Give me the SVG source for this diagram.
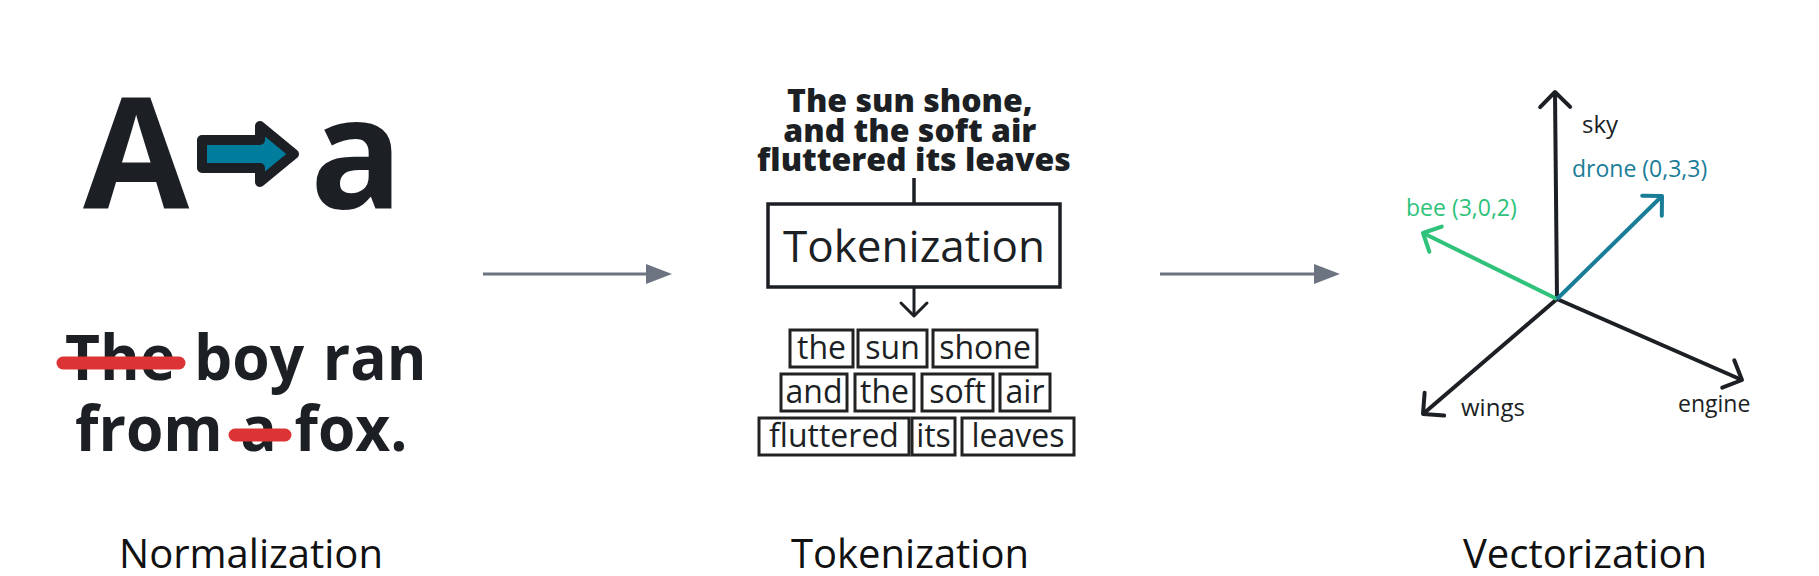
<svg xmlns="http://www.w3.org/2000/svg" width="1819" height="576" viewBox="0 0 1819 576">
<defs>
<style>
.f{font-family:"Open Sans","Noto Sans","Liberation Sans",sans-serif;}
.ink{fill:#1c1f24;}
.bold{font-weight:700;}
.label{font-size:40px;fill:#111;text-anchor:middle;}
.tok{fill:none;stroke:#222;stroke-width:3;}
.toktxt{font-size:32px;fill:#1c1f24;text-anchor:middle;}
.axis{stroke:#1c1f24;stroke-width:4;fill:none;}
.conn{stroke:#6b7480;stroke-width:3;fill:none;}
.strike{stroke:#dc3434;stroke-width:13;stroke-linecap:round;}
</style>
<marker id="tri" markerUnits="userSpaceOnUse" viewBox="0 -10 26 20" markerWidth="26" markerHeight="20" refX="2" refY="0" orient="auto">
<path d="M0,-10 L26,0 L0,10 Z" fill="#6b7480"/>
</marker>
<marker id="chevK" markerUnits="userSpaceOnUse" viewBox="-20 -20 24 40" markerWidth="24" markerHeight="40" refX="0" refY="0" orient="auto">
<path d="M-15,-15 L0,0 L-15,15" fill="none" stroke="#1c1f24" stroke-width="4" stroke-linecap="round" stroke-linejoin="round"/>
</marker>
<marker id="chevG" markerUnits="userSpaceOnUse" viewBox="-20 -20 24 40" markerWidth="24" markerHeight="40" refX="0" refY="0" orient="auto">
<path d="M-14,-14 L0,0 L-14,14" fill="none" stroke="#2ec27a" stroke-width="4" stroke-linecap="round" stroke-linejoin="round"/>
</marker>
<marker id="chevT" markerUnits="userSpaceOnUse" viewBox="-20 -20 24 40" markerWidth="24" markerHeight="40" refX="0" refY="0" orient="auto">
<path d="M-14,-14 L0,0 L-14,14" fill="none" stroke="#1a7d98" stroke-width="4" stroke-linecap="round" stroke-linejoin="round"/>
</marker>
<marker id="chevS" markerUnits="userSpaceOnUse" viewBox="-20 -20 24 40" markerWidth="24" markerHeight="40" refX="0" refY="0" orient="auto">
<path d="M-13,-13 L0,0 L-13,13" fill="none" stroke="#1c1f24" stroke-width="3" stroke-linecap="round" stroke-linejoin="round"/>
</marker>
</defs>
<rect width="1819" height="576" fill="#ffffff"/>

<g id="normalization">
<text class="f ink bold" x="83" y="208" font-size="154">A</text>
<path d="M202,140 L260,140 L260,126 L294,154 L260,182 L260,168 L202,168 Z" fill="#007c9c" stroke="#1c1f24" stroke-width="10" stroke-linejoin="round"/>
<text class="f ink bold" x="310" y="208" font-size="154">a</text>
<text class="f ink bold" font-size="63" word-spacing="3" transform="translate(65,380) scale(0.96,1)">The boy ran</text>
<text class="f ink bold" font-size="63" word-spacing="2" transform="translate(75,451) scale(0.96,1)">from a fox.</text>
<line class="strike" x1="63" y1="363" x2="179" y2="363"/>
<line class="strike" x1="235" y1="435" x2="285" y2="435"/>
<text class="f label" x="251" y="568">Normalization</text>
</g>

<g id="tokenization">
<text class="f ink" font-size="32" font-weight="800" text-anchor="middle">
<tspan x="914" y="112">The sun shone,</tspan>
<tspan x="914" y="142">and the soft air</tspan>
<tspan x="914" y="171">fluttered its leaves</tspan>
</text>
<rect x="768" y="204" width="292" height="83" fill="none" stroke="#1c1f24" stroke-width="3.5"/>
<text class="f ink" x="914" y="262" font-size="44" text-anchor="middle">Tokenization</text>
<g id="tokens">
<rect class="tok" x="790" y="330" width="63" height="37"/><text class="f toktxt" x="821.5" y="359">the</text>
<rect class="tok" x="858" y="330" width="69" height="37"/><text class="f toktxt" x="892.5" y="359">sun</text>
<rect class="tok" x="933" y="330" width="104" height="37"/><text class="f toktxt" x="985" y="359">shone</text>
<rect class="tok" x="781" y="374" width="66" height="37"/><text class="f toktxt" x="814" y="403">and</text>
<rect class="tok" x="855" y="374" width="59" height="37"/><text class="f toktxt" x="884.5" y="403">the</text>
<rect class="tok" x="922" y="374" width="71" height="37"/><text class="f toktxt" x="957.5" y="403">soft</text>
<rect class="tok" x="1000" y="374" width="50" height="37"/><text class="f toktxt" x="1025" y="403">air</text>
<rect class="tok" x="759" y="418" width="150" height="37"/><text class="f toktxt" x="834" y="447">fluttered</text>
<rect class="tok" x="912" y="418" width="43" height="37"/><text class="f toktxt" x="933.5" y="447">its</text>
<rect class="tok" x="962" y="418" width="112" height="37"/><text class="f toktxt" x="1018" y="447">leaves</text>
</g>
<text class="f label" x="910" y="568">Tokenization</text>
</g>

<g id="vectorization">
<text class="f" x="1582" y="133" font-size="24" fill="#1c1f24">sky</text>
<text class="f" x="1572" y="177" font-size="23" fill="#1a7d98">drone (0,3,3)</text>
<text class="f" x="1406" y="216" font-size="23" fill="#2ec27a">bee (3,0,2)</text>
<text class="f" x="1461" y="416" font-size="24" fill="#1c1f24">wings</text>
<text class="f" x="1678" y="412" font-size="23" fill="#1c1f24">engine</text>
<text class="f label" x="1585" y="568">Vectorization</text>
</g>

<g id="connectors">
<line class="conn" x1="483" y1="274" x2="648" y2="274" marker-end="url(#tri)"/>
<line class="conn" x1="1160" y1="274" x2="1316" y2="274" marker-end="url(#tri)"/>
<line x1="914" y1="178" x2="914" y2="204" stroke="#1c1f24" stroke-width="3.5"/>
<line x1="914" y1="287" x2="914" y2="316" stroke="#1c1f24" stroke-width="3" marker-end="url(#chevS)"/>
<line class="axis" x1="1557" y1="299" x2="1555" y2="92" marker-end="url(#chevK)"/>
<line class="axis" x1="1557" y1="299" x2="1423" y2="414" marker-end="url(#chevK)"/>
<line class="axis" x1="1557" y1="299" x2="1742" y2="380" marker-end="url(#chevK)"/>
<line x1="1557" y1="299" x2="1423" y2="233" stroke="#2ec27a" stroke-width="4" marker-end="url(#chevG)"/>
<line x1="1557" y1="299" x2="1662" y2="196" stroke="#1a7d98" stroke-width="4" marker-end="url(#chevT)"/>
</g>
</svg>
